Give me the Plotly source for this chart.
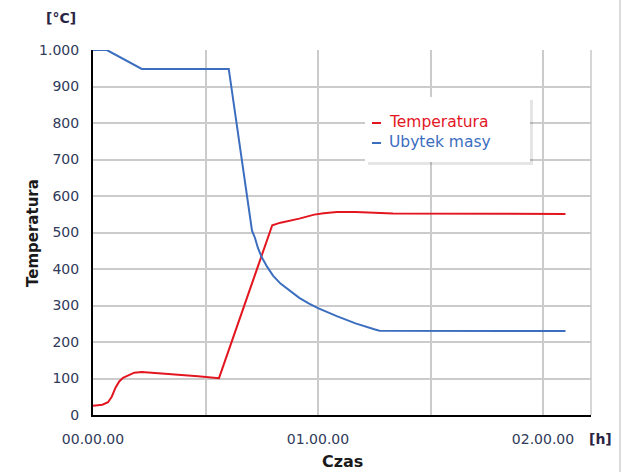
import plotly.graph_objects as go

# Time in minutes
temp_t = [0, 2.5, 4.0, 5.0, 6.0, 7.0, 8.0, 9.5, 11, 13, 20, 28, 33.6, 40, 47.8, 50, 55, 59, 61.5, 65, 70, 80, 126]
temp_v = [25, 28, 35, 50, 75, 92, 102, 110, 116, 118, 113, 106, 101, 290, 520, 527, 538, 549, 553, 556, 556, 552, 551]

mass_t = [0, 3.7, 13, 36.2, 42.4, 43.2, 44, 45, 46.5, 48, 50, 52.5, 55, 57.5, 60, 65, 70, 75, 76.4, 126]
mass_v = [1000, 1000, 948, 948, 505, 485, 457, 432, 405, 382, 360, 340, 321, 306, 293, 271, 251, 235, 231, 230]

x_tickvals = [0, 30, 60, 90, 120]
x_ticktext = ["00.00.00", "", "01.00.00", "", "02.00.00"]
y_tickvals = [0, 100, 200, 300, 400, 500, 600, 700, 800, 900, 1000]
y_ticktext = ["0", "100", "200", "300", "400", "500", "600", "700", "800", "900", "1.000"]

RED = "#E3161F"
BLUE = "#3C6EBF"
TICKC = "#303a5a"

fig = go.Figure()
fig.add_trace(go.Scatter(x=temp_t, y=temp_v, mode="lines", name="Temperatura",
                         line=dict(color=RED, width=2, shape="linear")))
fig.add_trace(go.Scatter(x=mass_t, y=mass_v, mode="lines", name="Ubytek masy",
                         line=dict(color=BLUE, width=2, shape="linear")))

L, T, R, B = 93, 50, 591, 415
W, H = 625, 472
pw, ph = R - L, B - T

def px(x):
    return (x - L) / pw

def py(y):
    return (B - y) / ph

font_family = "DejaVu Sans"
annots = [
    dict(text="<b>[°C]</b>", x=px(61), y=py(18), font=dict(size=14, color="#2a2444")),
    dict(text="<b>Temperatura</b>", x=px(33), y=py(233), textangle=-90,
         font=dict(size=15, color="#1a1a1a")),
    dict(text="<b>Czas</b>", x=px(342), y=py(461), font=dict(size=16, color="#1a1a1a")),
    dict(text="<b>[h]</b>", x=px(600), y=py(439), font=dict(size=14, color="#2a2444")),
]
for a in annots:
    a.update(xref="paper", yref="paper", showarrow=False, xanchor="center", yanchor="middle")
    a["font"]["family"] = font_family

shapes = [
    dict(type="rect", xref="paper", yref="paper", x0=px(368), x1=px(533), y0=py(165), y1=py(100),
         fillcolor="rgba(0,0,0,0.10)", line=dict(width=0), layer="above"),
    dict(type="rect", xref="paper", yref="paper", x0=px(365), x1=px(530), y0=py(162), y1=py(97),
         fillcolor="white", line=dict(width=0), layer="above"),
    dict(type="line", xref="paper", yref="paper", x0=1, x1=1, y0=0, y1=1,
         line=dict(color="#c8c8c8", width=1.5)),
    dict(type="line", xref="paper", yref="paper", x0=px(620), x1=px(620), y0=py(472), y1=py(0),
         line=dict(color="#d0d0d0", width=1.5)),
]

# custom legend
leg = [("Temperatura", RED, 122), ("Ubytek masy", BLUE, 142)]
for name, col, yy in leg:
    shapes.append(dict(type="line", xref="paper", yref="paper", x0=px(372), x1=px(381),
                       y0=py(yy + 1), y1=py(yy + 1), line=dict(color=col, width=2), layer="above"))
    annots.append(dict(text=name, x=px(387), y=py(yy), xref="paper", yref="paper",
                       showarrow=False, xanchor="left", yanchor="middle",
                       font=dict(size=15.5, color=col, family=font_family)))

fig.update_layout(
    width=W, height=H,
    margin=dict(l=L, r=W - R, t=T, b=H - B),
    paper_bgcolor="white", plot_bgcolor="white",
    showlegend=False,
    annotations=annots, shapes=shapes,
    font=dict(family=font_family, size=13, color=TICKC),
)
fig.update_xaxes(range=[0, 132.8], tickvals=x_tickvals, ticktext=x_ticktext,
                 showgrid=True, gridcolor="#cbcbcb", gridwidth=1.5,
                 showline=True, linecolor="black", linewidth=2, zeroline=False,
                 ticks="", ticklabelstandoff=10, tickfont=dict(size=14, color=TICKC))
fig.update_yaxes(range=[0, 1000], tickvals=y_tickvals, ticktext=y_ticktext,
                 showgrid=True, gridcolor="#cbcbcb", gridwidth=1.5,
                 showline=True, linecolor="black", linewidth=2, zeroline=False,
                 ticks="", ticklabelstandoff=9, tickfont=dict(size=14, color=TICKC))

fig.write_html("out.html")
